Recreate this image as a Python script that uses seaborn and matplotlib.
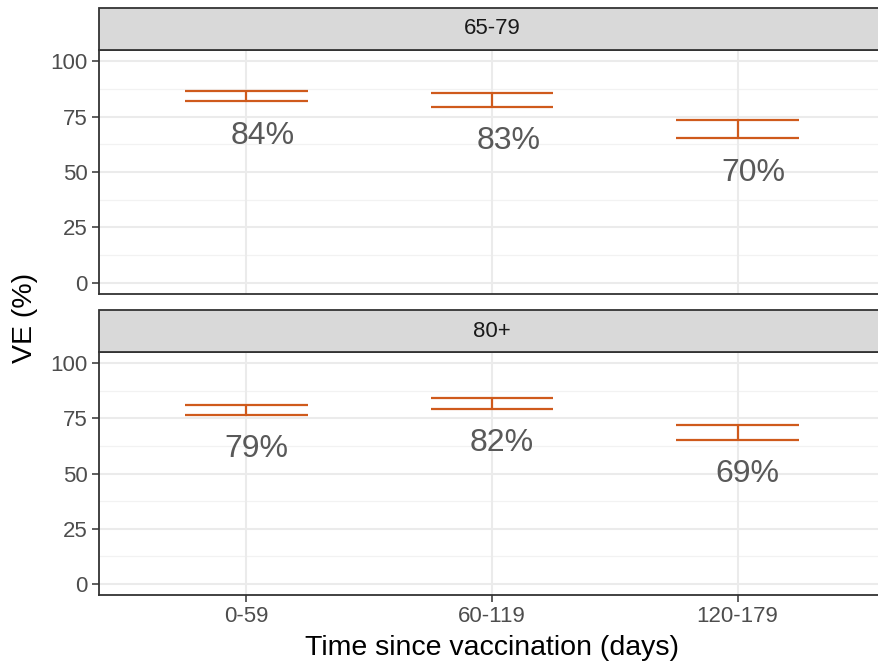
import matplotlib
matplotlib.use("Agg")
import matplotlib.pyplot as plt
import seaborn as sns
import pandas as pd
import numpy as np
from matplotlib.patches import Rectangle

# data
age_groups = ["65-79", "80+"]
periods = ["0-59", "60-119", "120-179"]
ve_65_79 = [84, 83, 70]
lo_65_79 = [81.8, 79.4, 65.2]
hi_65_79 = [86.5, 85.5, 73.4]
ve_80 = [79, 82, 69]
lo_80 = [76.6, 79.3, 65.2]
hi_80 = [81.1, 84.0, 72.1]

df = pd.DataFrame({
    "age": np.repeat(age_groups, len(periods)),
    "period": periods * 2,
    "ve": ve_65_79 + ve_80,
    "lo": lo_65_79 + lo_80,
    "hi": hi_65_79 + hi_80,
})

sns.set_theme(style="white")
plt.rcParams["font.family"] = ["Liberation Sans", "DejaVu Sans"]

bar_color = "#CF5A1C"
frame_color = "#333333"

g = sns.FacetGrid(df, row="age", row_order=age_groups, sharex=True, sharey=True,
                  height=3.33, aspect=2.64)
fig = g.figure
fig.set_size_inches(8.79, 6.66)

label_nudge = {"65-79": 0.066, "80+": 0.04}

positions = {
    "65-79": [99 / 879, 1 - 294 / 666, 786 / 879, 244 / 666],
    "80+": [99 / 879, 1 - 595 / 666, 786 / 879, 243 / 666],
}

for ax, age in zip(g.axes.flat, age_groups):
    ax.set_position(positions[age])
    sub = df[df["age"] == age].reset_index(drop=True)
    xs = np.arange(len(sub))

    # grid
    for yv in [12.5, 37.5, 62.5, 87.5]:
        ax.axhline(yv, color="#F2F2F2", lw=0.9, zorder=0)
    for yv in [0, 25, 50, 75, 100]:
        ax.axhline(yv, color="#EBEBEB", lw=1.5, zorder=0)
    for xv in xs:
        ax.axvline(xv, color="#EBEBEB", lw=1.5, zorder=0)

    # error bars (ggplot style, cap width 0.5)
    ax.vlines(xs, sub["lo"], sub["hi"], color=bar_color, lw=1.6, zorder=3)
    ax.hlines(sub["lo"], xs - 0.25, xs + 0.25, color=bar_color, lw=1.6, zorder=3)
    ax.hlines(sub["hi"], xs - 0.25, xs + 0.25, color=bar_color, lw=1.6, zorder=3)

    # VE labels under the lower bound
    for x, v, lo in zip(xs, sub["ve"], sub["lo"]):
        ax.text(x + label_nudge[age], lo - 15.5, f"{v}%", ha="center", va="center",
                fontsize=23, color="#595959", zorder=4)

    ax.set_xlim(-0.6, 2.6)
    ax.set_ylim(-5, 105)
    ax.set_yticks([0, 25, 50, 75, 100])
    ax.set_xticks(xs)
    ax.set_xticklabels(periods)
    ax.tick_params(axis="y", which="both", left=True, length=5, width=1.1,
                   color=frame_color, labelsize=16, labelcolor="#4D4D4D", pad=3)
    ax.tick_params(axis="x", bottom=True, length=5, width=1.1,
                   color=frame_color, labelsize=16, labelcolor="#4D4D4D", pad=3)
    ax.set_xlabel("")
    ax.set_ylabel("")
    ax.set_title("")
    for s in ax.spines.values():
        s.set_visible(True)
        s.set_color(frame_color)
        s.set_linewidth(1.3)

    # facet strip
    strip_h = 42 / 244
    ax.add_patch(Rectangle((0, 1), 1, strip_h, transform=ax.transAxes,
                           facecolor="#D9D9D9", edgecolor=frame_color, lw=1.3,
                           clip_on=False, zorder=5))
    ax.text(0.5, 1 + strip_h / 2, age, transform=ax.transAxes, ha="center",
            va="center", fontsize=16, color="#1A1A1A", zorder=6)

g.axes.flat[0].tick_params(axis="x", bottom=False, labelbottom=False)

fig.text(0.5 * (99 + 885) / 879, 1 - 648 / 666, "Time since vaccination (days)",
         ha="center", va="center", fontsize=20.5, color="black")
fig.text(25 / 879, 1 - 318 / 666, "VE (%)", rotation=90, ha="center",
         va="center", fontsize=20.5, color="black")

fig.savefig("out.png", dpi=100)
